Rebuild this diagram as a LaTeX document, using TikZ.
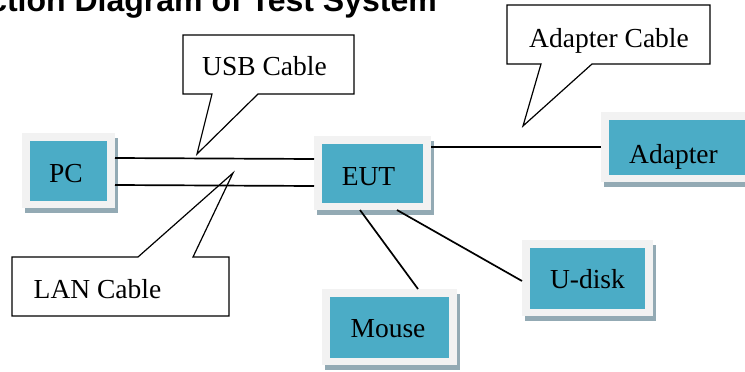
\documentclass[tikz,border=0pt]{standalone}
\usepackage{fontspec}
\setmainfont{Liberation Serif}
\newfontfamily\titlefont{Liberation Sans}
\definecolor{tealbox}{HTML}{4BACC6}
\definecolor{framebox}{HTML}{F2F2F2}
\definecolor{shadowbox}{HTML}{93AAB4}
\tikzset{
  outerbox/.style={fill=framebox, inner sep=0pt, outer sep=0pt,
    preaction={fill=shadowbox, transform canvas={shift={(3pt,-5pt)}}}},
  innerbox/.style={fill=tealbox, inner sep=0pt, outer sep=0pt},
  lbl/.style={font=\fontsize{27.5}{30}\selectfont, inner sep=0pt, anchor=base},
  callout/.style={draw=black, fill=white, line width=1.2pt, line join=miter},
  wire/.style={draw=black, line width=1.7pt}
}
% name, x1, y1, x2, y2 of outer frame (y downwards)
\newcommand\devbox[5]{%
  \node[outerbox, minimum width={(#4)-(#2)}, minimum height={(#5)-(#3)}, anchor=north west] (#1) at (#2,#3) {};
  \node[innerbox, minimum width={(#4)-(#2)-16}, minimum height={(#5)-(#3)-15}, anchor=north west] (#1-in) at ({#2+8},{#3+8}) {};
}
\begin{document}
\begin{tikzpicture}[x=1pt,y=-1pt]
\useasboundingbox (0,0) rectangle (745,372);
\clip (0,0) rectangle (745,372);
\fill[white] (0,0) rectangle (745,372);

% title (cut off by the top and left edges)
\node[font=\titlefont\bfseries\fontsize{32}{36}\selectfont, inner sep=0pt, anchor=base east] (title) at (437,11) {Connection Diagram of Test System};

% devices
\devbox{pc}{22}{133}{115}{208}
\devbox{eut}{314}{136}{431}{210}
\devbox{adapter}{601}{112}{768}{182}
\devbox{udisk}{522}{240}{653}{316}
\devbox{mouse}{322}{289}{457}{365}

\node[lbl] (pc-t) at (66,182) {PC};
\node[lbl] (eut-t) at (368.5,185) {EUT};
\node[lbl] (adapter-t) at (673.5,163) {Adapter};
\node[lbl] (udisk-t) at (587.5,288) {U-disk};
\node[lbl] (mouse-t) at (388,337) {Mouse};

% callouts
\draw[callout] (183,35) -- (354,35) -- (354,94) -- (258,94) -- (197,154) -- (212,94) -- (183,94) -- cycle;
\node[lbl] (usb-t) at (264.5,75) {USB Cable};

\draw[callout] (507,5) -- (710,5) -- (710,64) -- (592,64) -- (523,126) -- (541,64) -- (507,64) -- cycle;
\node[lbl] (adc-t) at (609,47) {Adapter Cable};

\draw[callout] (12,257) -- (138,257) -- (233,173) -- (193,257) -- (229,257) -- (229,316) -- (12,316) -- cycle;
\node[lbl] (lan-t) at (97.5,298) {LAN Cable};

% wires
\draw[wire] (pc.east |- 0,158) -- (eut.west |- 0,159);
\draw[wire] (pc.east |- 0,185) -- (eut.west |- 0,186);
\draw[wire] (eut.east |- 0,147) -- (adapter.west |- 0,147);
\draw[wire] (eut.south -| 360,0) -- (mouse.north -| 418,0);
\draw[wire] (eut.south -| 397,0) -- (udisk.west |- 0,281);
\end{tikzpicture}
\end{document}
